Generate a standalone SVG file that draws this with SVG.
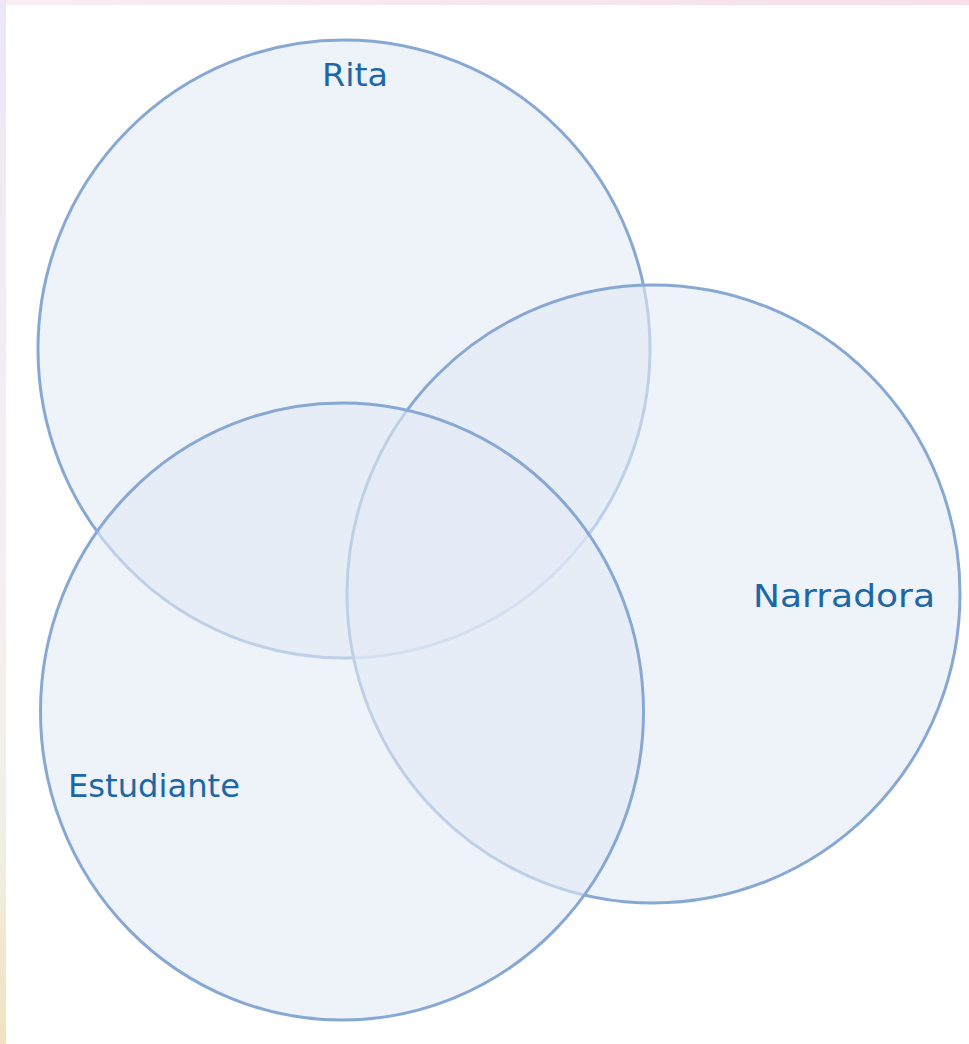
<svg xmlns="http://www.w3.org/2000/svg" width="969" height="1044" viewBox="0 0 969 1044">
<defs>
<linearGradient id="lg" x1="0" y1="0" x2="0" y2="1">
<stop offset="0" stop-color="#ede6f3"/>
<stop offset="0.5" stop-color="#f7eef5"/>
<stop offset="0.8" stop-color="#f1efe6"/>
<stop offset="1" stop-color="#efe3bf"/>
</linearGradient>
<linearGradient id="tg" x1="0" y1="0" x2="1" y2="0">
<stop offset="0" stop-color="#f7eef4"/>
<stop offset="0.5" stop-color="#f8e6ef"/>
<stop offset="1" stop-color="#f6dfe8"/>
</linearGradient>
<style>
.c{fill:#e3e9f5;fill-opacity:0.6;stroke:#88a8d4;stroke-width:3}
.t{font-family:"DejaVu Sans","Liberation Sans",sans-serif;font-size:32px;fill:#1c68a6;lengthAdjust:spacingAndGlyphs}
</style>
</defs>
<rect width="969" height="1044" fill="#ffffff"/>
<rect x="0" y="0" width="969" height="5" fill="url(#tg)"/>
<rect x="0" y="0" width="6" height="1044" fill="url(#lg)"/>
<g id="rita"><ellipse class="c" cx="344" cy="349" rx="306" ry="309"/></g>
<g id="narradora"><ellipse class="c" cx="653.5" cy="594" rx="306.5" ry="309"/></g>
<g id="estudiante"><ellipse class="c" cx="342" cy="711.5" rx="301.5" ry="308.5"/></g>
<g id="labels">
<text class="t" x="322" y="86" textLength="66" lengthAdjust="spacingAndGlyphs">Rita</text>
<text class="t" x="753" y="607" textLength="182" lengthAdjust="spacingAndGlyphs">Narradora</text>
<text class="t" x="68" y="797" textLength="172" lengthAdjust="spacingAndGlyphs">Estudiante</text>
</g>
<g id="connectors"/>
</svg>
